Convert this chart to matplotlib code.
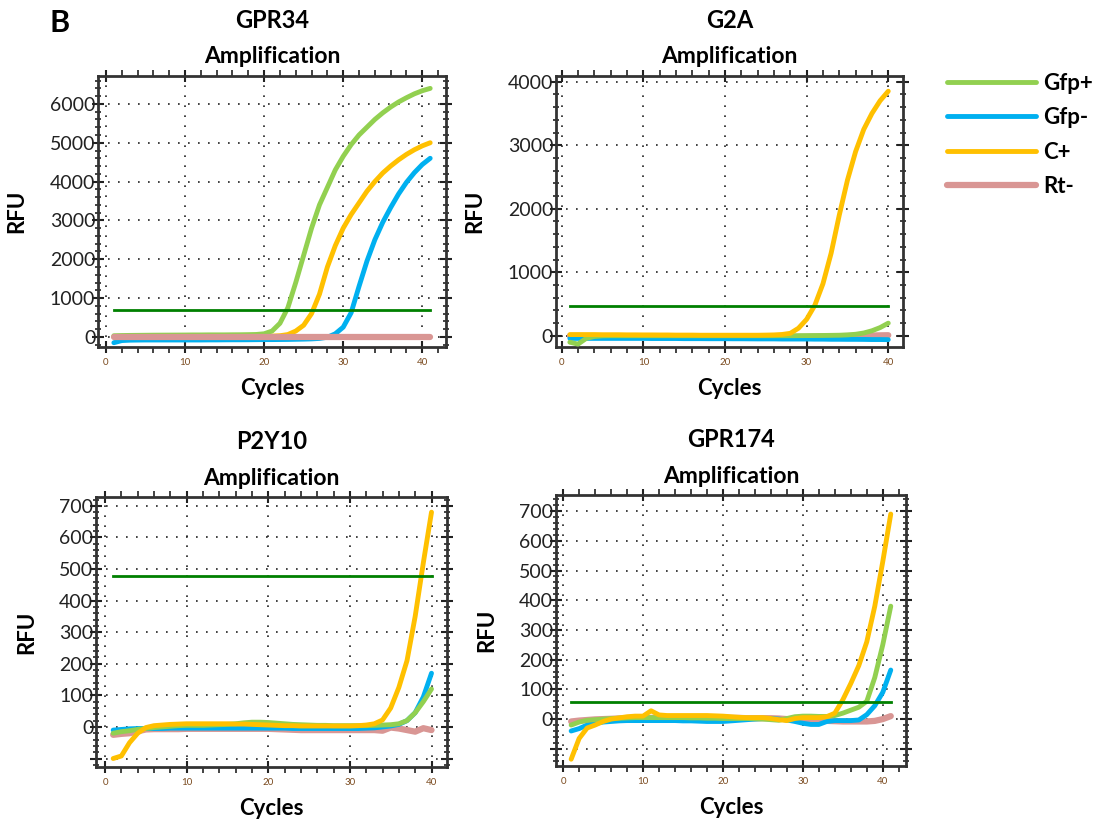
import numpy as np
import matplotlib
matplotlib.use("Agg")
from matplotlib import pyplot as plt
from matplotlib.ticker import MultipleLocator

plt.rcParams['font.family'] = ['Lato', 'DejaVu Sans']

series = ['Gfp+', 'Gfp-', 'C+', 'Rt-']
colors = {'Gfp+': '#92D050', 'Gfp-': '#00B0F0', 'C+': '#FFC000', 'Rt-': '#D99694'}
thr_color = '#008000'

cyc41 = list(range(1, 42))
cyc40 = list(range(1, 41))

# GPR34
gpr34_gfp_pos = [30, 35, 38, 40, 42, 44, 45, 46, 47, 48, 50, 50, 52, 52, 52, 54, 55, 58, 62, 80,
                 150, 350, 750, 1400, 2100, 2800, 3400, 3850, 4300, 4650, 4950, 5200, 5400, 5600,
                 5770, 5920, 6050, 6160, 6260, 6340, 6400]
gpr34_gfp_neg = [-150, -95, -85, -82, -80, -80, -80, -80, -80, -80, -80, -80, -78, -78, -76, -75,
                 -75, -74, -72, -70, -70, -68, -66, -62, -58, -52, -40, -10, 80, 250, 620, 1300,
                 1950, 2500, 2950, 3330, 3680, 3980, 4230, 4440, 4600]
gpr34_c_pos = [0, 2, 4, 5, 6, 6, 6, 6, 6, 6, 6, 6, 6, 6, 6, 6, 8, 10, 12, 15, 20, 30, 60, 150, 300,
               600, 1100, 1800, 2350, 2800, 3150, 3450, 3750, 4000, 4220, 4400, 4560, 4700, 4820,
               4920, 5000]
gpr34_rt = [-5] * 41
gpr34_thr = 690

# G2A
g2a_gfp_pos = [-100, -130, -40, -10, 0, 2, 2, 2, 2, 2, 2, 2, 2, 2, 2, 2, 2, 2, 2, 2, 2, 2, 2, 2,
               2, 2, 2, 2, 3, 4, 5, 6, 8, 10, 15, 25, 45, 80, 130, 200]
g2a_gfp_neg = [-40, -40, -40, -40, -40, -40, -40, -40, -40, -40, -42, -42, -42, -42, -44, -44, -44,
               -45, -45, -45, -46, -46, -47, -48, -48, -48, -50, -50, -50, -50, -52, -52, -54,
               -54, -55, -55, -56, -58, -58, -60]
g2a_c_pos = [20, 20, 20, 20, 18, 18, 18, 16, 16, 15, 15, 14, 14, 12, 12, 12, 10, 10, 10, 10, 10,
             10, 10, 10, 12, 15, 22, 40, 120, 260, 480, 820, 1300, 1900, 2450, 2900, 3250, 3500,
             3700, 3850]
g2a_rt = [0, 0, -5, -5, -8, -8, -10, -10, -10, -12, -12, -12, -14, -14, -15, -15, -15, -16, -16,
          -16, -18, -18, -18, -18, -18, -18, -18, -18, -16, -15, -12, -10, -8, -5, -2, 0, 2, 5,
          8, 10]
g2a_thr = 470

# P2Y10
p2y10_gfp_pos = [-20, -15, -12, -8, -5, -2, 0, 2, 4, 5, 5, 5, 6, 7, 8, 10, 13, 15, 15, 14, 12,
                 10, 8, 7, 6, 5, 5, 4, 4, 4, 4, 4, 5, 6, 7, 10, 20, 45, 80, 120]
p2y10_gfp_neg = [-10, -8, -6, -5, -5, -5, -5, -4, -4, -4, -4, -4, -4, -4, -4, -4, -4, -4, -4,
                 -4, -4, -4, -5, -5, -5, -5, -5, -5, -5, -5, -5, -4, -3, 0, 3, 8, 20, 45, 95, 170]
p2y10_c_pos = [-100, -92, -50, -20, -2, 4, 6, 8, 9, 10, 10, 10, 10, 10, 10, 9, 9, 8, 7, 6, 5, 4,
               4, 3, 3, 3, 3, 3, 3, 3, 4, 6, 10, 22, 60, 125, 210, 350, 520, 680]
p2y10_rt = [-25, -22, -20, -14, -8, -7, -7, -7, -7, -6, -6, -6, -6, -6, -6, -6, -6, -6, -6, -6,
            -7, -8, -9, -10, -10, -10, -10, -10, -10, -10, -10, -10, -10, -12, -2, -5, -10, -15,
            -4, -10]
p2y10_thr = 478

# GPR174
gpr174_gfp_pos = [-20, -10, -4, -2, 0, 2, 3, 4, 5, 5, 5, 5, 5, 5, 5, 4, 4, 3, 3, 2, 2, 2, 2, 1,
                  0, -2, -4, 2, 8, 10, 10, 9, 9, 12, 20, 30, 40, 60, 140, 250, 380]
gpr174_gfp_neg = [-40, -32, -20, -15, -10, -8, -6, -5, -5, -5, -5, -5, -5, -5, -6, -6, -7, -8,
                  -8, -8, -6, -4, -2, 0, 2, 2, 0, -3, -8, -14, -18, -18, -8, -5, -5, -5, -3, 15,
                  45, 90, 165]
gpr174_c_pos = [-135, -65, -30, -20, -8, 0, 4, 8, 10, 10, 28, 14, 12, 12, 12, 12, 12, 12, 11, 10,
                8, 6, 5, 5, 5, 2, -2, -5, 2, 5, 5, 5, 8, 20, 65, 120, 180, 260, 380, 530, 690]
gpr174_rt = [-8, -5, -3, -1, 0, 1, 2, 3, 3, 4, 4, 5, 5, 5, 5, 5, 5, 5, 5, 5, 4, 4, 3, 3, 3, 3,
             2, 0, -2, -3, -4, -5, -6, -7, -8, -8, -8, -8, -6, 0, 10]
gpr174_thr = 57

panels = [
    dict(name='GPR34', x=cyc41, data=[gpr34_gfp_pos, gpr34_gfp_neg, gpr34_c_pos, gpr34_rt],
         thr=gpr34_thr, ylim=(-260, 6720), yticks=[0, 1000, 2000, 3000, 4000, 5000, 6000],
         yminor=200, xlim=(-1.0, 43.0), pos=[0.0888, 0.5784, 0.3152, 0.3293]),
    dict(name='G2A', x=cyc40, data=[g2a_gfp_pos, g2a_gfp_neg, g2a_c_pos, g2a_rt],
         thr=g2a_thr, ylim=(-175, 4090), yticks=[0, 1000, 2000, 3000, 4000],
         yminor=200, xlim=(-0.7, 41.8), pos=[0.5036, 0.5784, 0.3143, 0.3293]),
    dict(name='P2Y10', x=cyc40, data=[p2y10_gfp_pos, p2y10_gfp_neg, p2y10_c_pos, p2y10_rt],
         thr=p2y10_thr, ylim=(-127, 728), yticks=[-100, 0, 100, 200, 300, 400, 500, 600, 700],
         yminor=20, xlim=(-1.1, 41.9), pos=[0.0870, 0.0680, 0.3179, 0.3281]),
    dict(name='GPR174', x=cyc41, data=[gpr174_gfp_pos, gpr174_gfp_neg, gpr174_c_pos, gpr174_rt],
         thr=gpr174_thr, ylim=(-158, 754), yticks=[-100, 0, 100, 200, 300, 400, 500, 600, 700],
         yminor=20, xlim=(-0.9, 42.9), pos=[0.5036, 0.0692, 0.3170, 0.3293]),
]

fig = plt.figure(figsize=(11.04, 8.23), dpi=100)

handles = []
for p in panels:
    ax = fig.add_axes(p['pos'])
    x = p['x']
    order = ['Rt-', 'Gfp-', 'Gfp+', 'C+'] if p['name'] != 'GPR34' else ['Gfp-', 'C+', 'Gfp+', 'Rt-']
    lines = {}
    for s in order:
        vals = p['data'][series.index(s)]
        lw = 4.5 if s == 'Rt-' else 3.5
        ln, = ax.plot(x, vals, color=colors[s], lw=lw, solid_capstyle='round', zorder=3)
        lines[s] = ln
    ax.plot([x[0], x[-1]], [p['thr'], p['thr']], color=thr_color, lw=2, zorder=4)
    if not handles:
        handles = [lines[s] for s in series]

    ax.set_xlim(*p['xlim'])
    ax.set_ylim(*p['ylim'])
    ax.set_xticks([0, 10, 20, 30, 40])
    ax.xaxis.set_minor_locator(MultipleLocator(2))
    ax.set_yticks(p['yticks'])
    ax.set_yticklabels(['' if v < 0 else str(v) for v in p['yticks']])
    ax.yaxis.set_minor_locator(MultipleLocator(p['yminor']))
    ax.grid(True, which='major', color='#222222', linestyle=(0, (1, 5)), lw=1.2)
    ax.tick_params(axis='y', which='major', direction='inout', length=8, width=1.5,
                   labelsize=14, pad=-2, right=True, colors='#222222')
    ax.tick_params(axis='y', which='minor', direction='inout', length=4, width=1.2,
                   right=True, colors='#222222')
    ax.tick_params(axis='x', which='major', direction='inout', length=8, width=1.5,
                   labelsize=7, pad=4, top=True, colors='#222222', labelcolor='#7a4a1e')
    ax.tick_params(axis='x', which='minor', direction='out', length=4, width=1.2,
                   top=True, colors='#222222')
    for sp in ax.spines.values():
        sp.set_color('#333333')
        sp.set_linewidth(2)
    ax.set_xlabel('Cycles', fontsize=16, fontweight='bold', labelpad=8)
    ax.set_ylabel('RFU', fontsize=16, fontweight='bold', labelpad=16)
    ax.set_title('Amplification', fontsize=16.5, fontweight='bold', pad=9)
    ax.text(0.5, 1.0 + 44 / (p['pos'][3] * 823), p['name'], transform=ax.transAxes,
            ha='center', va='bottom', fontsize=17, fontweight='bold')

fig.text(0.045, 0.972, 'B', fontsize=22, fontweight='bold', ha='left', va='center')

fig.legend(handles, series, loc='upper left', bbox_to_anchor=(0.848, 0.925), frameon=False,
           borderpad=0, handlelength=4.0, handletextpad=0.3, labelspacing=0.6,
           prop={'size': 16, 'weight': 'bold'})

fig.savefig('out.png', dpi=100)
